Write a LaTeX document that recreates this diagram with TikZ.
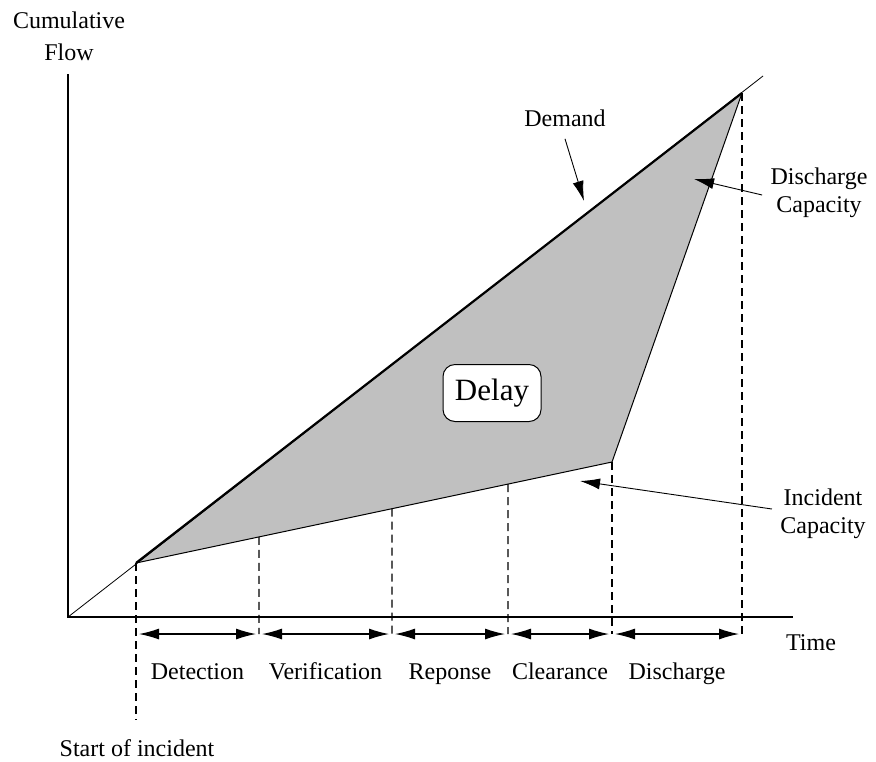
\documentclass[tikz,border=0pt]{standalone}
\usepackage{fontspec}
\setmainfont{Liberation Serif}
\usetikzlibrary{arrows.meta,calc}
\definecolor{delayfill}{RGB}{192,192,192}
\tikzset{
  tip/.style={Latex[length=10pt,width=5.5pt]},
  lbl/.style={font=\fontsize{12}{14}\selectfont, inner sep=1pt, align=center},
  phase/.style={{Latex[length=10pt,width=5.5pt]}-{Latex[length=10pt,width=5.5pt]}, line width=0.6pt, shorten >=1.5pt, shorten <=1.5pt},
  guide/.style={dash pattern=on 4pt off 2.5pt, line width=0.7pt},
  ptr/.style={-{Latex[length=10pt,width=5.5pt]}, line width=0.45pt}
}
\begin{document}
\begin{tikzpicture}[x=0.5pt,y=-0.5pt]
\useasboundingbox (0,0) rectangle (876,761);
\coordinate (O) at (68,617);
\coordinate (ytop) at (68,74);
\coordinate (xend) at (793,617);
\coordinate (S) at (136,563);
\coordinate (E) at (742,93);
\coordinate (K) at (612,462);
\coordinate (dend) at (763,76);
\coordinate (p1) at ($(S)!0.2584!(K)$);
\coordinate (p2) at ($(S)!0.5378!(K)$);
\coordinate (p3) at ($(S)!0.7815!(K)$);
\foreach \n/\x in {0/136,1/259,2/392,3/508,4/612,5/742}
  \coordinate (t\n) at (\x,634);
\coordinate (sbot) at (136,720);

\fill[delayfill] (S) -- (E) -- (K) -- cycle;
\draw[line width=0.7pt] (ytop) -- (O) -- (xend);
\draw[line width=0.4pt] (O) -- (dend);
\draw[line width=1.1pt] (S) -- (E);
\draw[line width=0.5pt] (S) -- (K) -- (E);

\draw[guide] (S) -- (sbot);
\draw[guide] (p1) -- (t1);
\draw[guide] (p2) -- (t2);
\draw[guide] (p3) -- (t3);
\draw[guide] (K) -- (t4);
\draw[guide] (E) -- (t5);

\foreach \a/\b/\txt in {t0/t1/Detection, t1/t2/Verification, t2/t3/Reponse, t3/t4/Clearance, t4/t5/Discharge}
  \draw[phase] (\a) -- node[lbl, anchor=base, yshift=-22.5pt] {\txt} (\b);

\node[draw, rounded corners=6pt, fill=white, line width=0.5pt, font=\fontsize{15.5}{18}\selectfont,
  minimum width=49pt, minimum height=28.5pt] (delay) at (492,393) {Delay};

\node[lbl] (cumflow) at (69,36) {Cumulative\\[2pt]Flow};
\node[lbl] (time) at (811,643) {Time};
\node[lbl] (start) at (137,748) {Start of incident};

\node[lbl] (dem) at (565,118) {Demand};
\coordinate (demtip) at (584,201);
\draw[ptr] (dem.south) ++(0,10) -- (demtip);

\node[lbl] (dcap) at (819,193) {Discharge\\Capacity};
\coordinate (dctip) at (694,179);
\draw[ptr] ([xshift=-3pt,yshift=-1pt]dcap.west) -- (dctip);

\node[lbl] (icap) at (823,514) {Incident\\Capacity};
\coordinate (ictip) at (580,481);
\draw[ptr] ([xshift=-3pt,yshift=2.5pt]icap.west) -- (ictip);
\end{tikzpicture}
\end{document}
